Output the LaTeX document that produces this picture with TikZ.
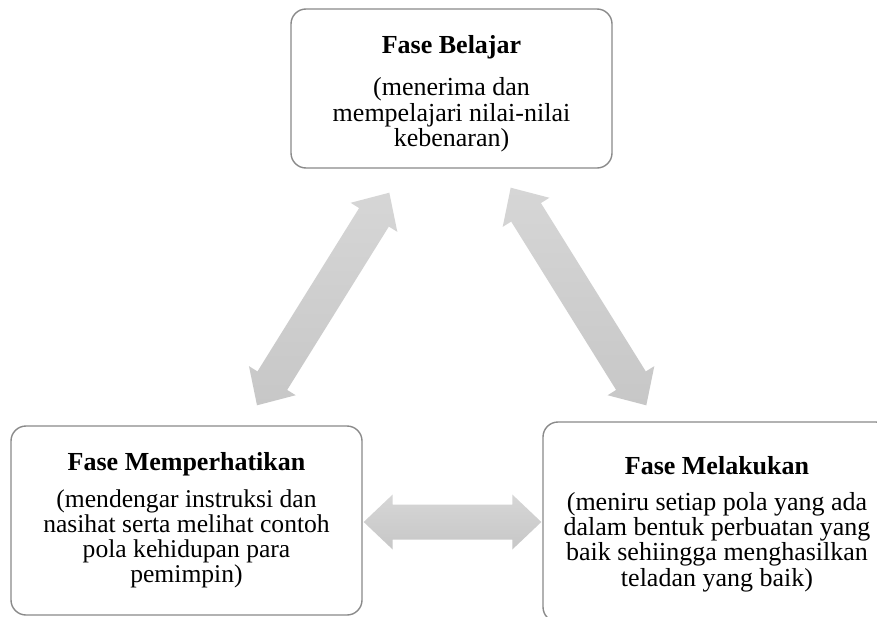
\documentclass[tikz,border=0pt]{standalone}
\usepackage{fontspec}
\setmainfont{Liberation Serif}
\usetikzlibrary{calc}
\definecolor{boxline}{HTML}{8A8A8A}
\definecolor{arrtop}{HTML}{D6D6D6}
\definecolor{arrbot}{HTML}{C7C7C7}
\tikzset{
  phase/.style={draw=boxline, line width=1.4pt, rounded corners=15pt, fill=white, inner sep=0pt},
  txt/.style={align=center, inner sep=0pt, font=\fontsize{26}{25.2}\selectfont},
  fat/.style={top color=arrtop, bottom color=arrbot, draw=none},
}
\newcommand{\fatarrow}[2]{%
  \coordinate (#1-h) at ($(#1)!29pt!(#2)$);
  \coordinate (#2-h) at ($(#2)!29pt!(#1)$);
  \path[fat] (#1)
    -- ($(#1-h)!27.5pt!90:(#2)$) -- ($(#1-h)!17.5pt!90:(#2)$)
    -- ($(#2-h)!17.5pt!-90:(#1)$) -- ($(#2-h)!27.5pt!-90:(#1)$)
    -- (#2)
    -- ($(#2-h)!27.5pt!90:(#1)$) -- ($(#2-h)!17.5pt!90:(#1)$)
    -- ($(#1-h)!17.5pt!-90:(#2)$) -- ($(#1-h)!27.5pt!-90:(#2)$)
    -- cycle;
}
\begin{document}
\begin{tikzpicture}[x=1pt, y=-1pt]
\useasboundingbox (0,0) rectangle (877,616);
\clip (0,0) rectangle (877,616);
\fill[white] (0,0) rectangle (877,616);
% boxes
\node[phase, minimum width=321pt, minimum height=159pt] (bel) at (451.5,88.5) {};
\node[phase, minimum width=351pt, minimum height=189pt] (mem) at (186.5,520.5) {};
\node[phase, minimum width=348pt, minimum height=200pt] (mel) at (717,522) {};
% texts
\node[txt, anchor=north] (belT) at (451.5,35) {\textbf{Fase Belajar}\\[17.5pt] (menerima dan\\ mempelajari nilai-nilai\\ kebenaran)};
\node[txt, anchor=north, font=\fontsize{25.6}{24.9}\selectfont] (memT) at (186.5,452) {\textbf{\fontsize{26}{25}\selectfont Fase Memperhatikan}\\[12.5pt] (mendengar instruksi dan\\ nasihat serta melihat contoh\\ pola kehidupan para\\ pemimpin)};
\node[txt, anchor=north] (melT) at (717,456) {\textbf{Fase Melakukan}\\[11pt] (meniru setiap pola yang ada\\ dalam bentuk perbuatan yang\\ baik sehiingga menghasilkan\\ teladan yang baik)};
% arrow end points, tied to the boxes
\coordinate (a1) at ($(mem.north)+(70.5,-20)$);
\coordinate (a2) at ($(bel.south west)+(99,24)$);
\coordinate (b1) at ($(bel.south east)+(-102,19)$);
\coordinate (b2) at ($(mel.north west)+(104,-16)$);
\coordinate (c1) at ($(mem.east)+(1,1.5)$);
\coordinate (c2) at ($(mel.west)+(-1,0)$);
\fatarrow{a1}{a2}
\fatarrow{b1}{b2}
\fatarrow{c1}{c2}
\end{tikzpicture}
\end{document}
